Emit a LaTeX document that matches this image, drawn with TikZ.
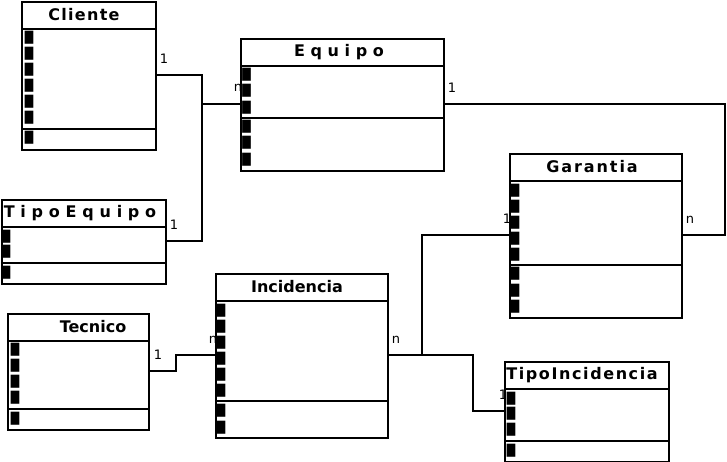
\documentclass[tikz,border=0pt]{standalone}
\usepackage{fontspec}
\setmainfont{DejaVu Sans}
\newfontfamily\tfont{DejaVu Sans Bold}
\newfontfamily\blobfont{DejaVu Sans}
\begin{document}
\begin{tikzpicture}[x=1pt,y=-1pt,
  classbox/.style={draw=black, line width=1.8pt, fill=white, anchor=north west, inner sep=0pt},
  sepline/.style={line width=1.8pt},
  conn/.style={line width=1.8pt},
  mult/.style={font=\fontsize{13}{13}\selectfont, inner sep=0pt},
  ctitle/.style={font=\fontsize{16}{16}\tfont, inner sep=0pt},
  blob/.style={font=\fontsize{11}{11}\blobfont, inner sep=0pt}]
\useasboundingbox (0,0) rectangle (727,462);
\fill[white] (0,0) rectangle (727,462);

% multiplicity labels
\node[mult] (m1) at (164,59) {1};
\node[mult] (m2) at (238,88) {n};
\node[mult] (m3) at (174,225) {1};
\node[mult] (m4) at (452,88) {1};
\node[mult] (m5) at (690,220) {n};
\node[mult] (m6) at (158,355) {1};
\node[mult] (m7) at (213,340) {n};
\node[mult] (m8) at (396,340) {n};
\node[mult] (m9) at (507,219) {1};
\node[mult] (m10) at (503,395) {1};

% class boxes
\node[classbox, minimum width=134pt, minimum height=148pt] (cliente) at (21,1) {};
\node[classbox, minimum width=203pt, minimum height=132pt] (equipo) at (240,38) {};
\node[classbox, minimum width=164pt, minimum height=84pt] (tipoequipo) at (1,199) {};
\node[classbox, minimum width=172pt, minimum height=164pt] (garantia) at (509,153) {};
\node[classbox, minimum width=141pt, minimum height=116pt] (tecnico) at (7,313) {};
\node[classbox, minimum width=172pt, minimum height=164pt] (incidencia) at (215,273) {};
\node[classbox, minimum width=164pt, minimum height=100pt] (tipoincidencia) at (504,361) {};

% connectors
\coordinate (j1) at (202,104);
\coordinate (r1) at (725,104);
\coordinate (r2) at (725,235);
\draw[conn] ([yshift=-74pt]cliente.north east) -| (j1) -- ([yshift=-66pt]equipo.north west);
\draw[conn] ([yshift=-42pt]tipoequipo.north east) -| (j1);
\draw[conn] ([yshift=-66pt]equipo.north east) -- (r1) -- (r2) -- ([yshift=-82pt]garantia.north east);
\draw[conn] ([yshift=-58pt]tecnico.north east) -- ++(26,0) |- ([yshift=-82pt]incidencia.north west);
\draw[conn] ([yshift=-82pt]incidencia.north east) -- ++(33,0) |- ([yshift=-82pt]garantia.north west);
\draw[conn] ([yshift=-82pt]incidencia.north east) -- ++(84,0) |- ([yshift=-50pt]tipoincidencia.north west);

% separators
\draw[sepline] (21,29) -- (155,29) (21,129) -- (155,129);
\draw[sepline] (240,66) -- (443,66) (240,118) -- (443,118);
\draw[sepline] (1,227) -- (165,227) (1,263) -- (165,263);
\draw[sepline] (509,181) -- (681,181) (509,265) -- (681,265);
\draw[sepline] (7,341) -- (148,341) (7,409) -- (148,409);
\draw[sepline] (215,301) -- (387,301) (215,401) -- (387,401);
\draw[sepline] (504,389) -- (668,389) (504,441) -- (668,441);

% titles
\node[ctitle] (t1) at (84,15) {\addfontfeature{LetterSpace=8}Cliente};
\node[ctitle] (t2) at (339,52) {\addfontfeature{LetterSpace=35}Equipo};
\node[ctitle] (t3) at (80,213) {\addfontfeature{LetterSpace=36}TipoEquipo};
\node[ctitle] (t4) at (592,167) {\addfontfeature{LetterSpace=12}Garantia};
\node[ctitle] (t5) at (93,327) {Tecnico};
\node[ctitle] (t6) at (297,287) {Incidencia};
\node[ctitle] (t7) at (582,375) {\addfontfeature{LetterSpace=10}TipoIncidencia};

% attribute / method marks
\foreach \y in {38,54,70,86,102,118,138} \node[blob] (bc\y) at (29,\y) {█};
\foreach \y in {75,91,108,127,143,160} \node[blob] (be\y) at (246.5,\y) {█};
\foreach \y in {237,252,273} \node[blob] (bt\y) at (6,\y) {█};
\foreach \y in {191,207,223,239,255,274,291,307} \node[blob] (bg\y) at (515,\y) {█};
\foreach \y in {350,366,382,398,419} \node[blob] (bk\y) at (15,\y) {█};
\foreach \y in {311,327,343,359,375,391,411,428} \node[blob] (bi\y) at (221,\y) {█};
\foreach \y in {399,414,430,451} \node[blob] (bp\y) at (511,\y) {█};
\end{tikzpicture}
\end{document}
